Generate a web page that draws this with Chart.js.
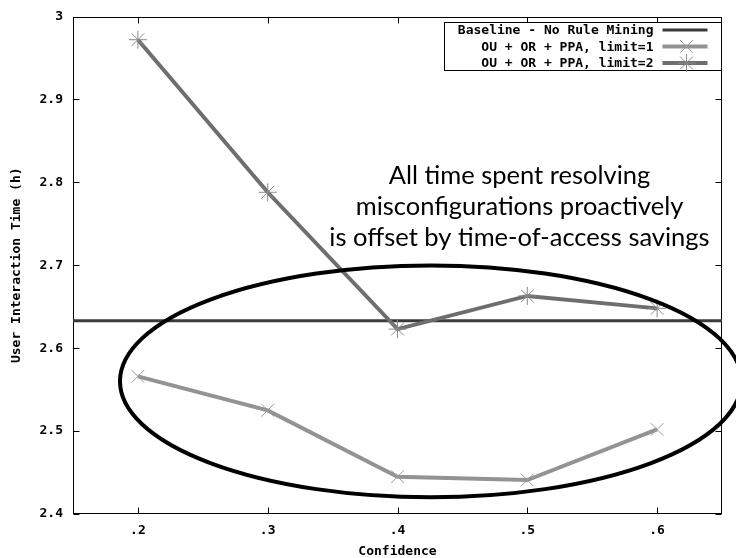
<!DOCTYPE html>
<html>
<head>
<meta charset="utf-8">
<script src="https://cdn.jsdelivr.net/npm/chart.js@4.4.1/dist/chart.umd.min.js"></script>
<style>
  html, body { margin: 0; padding: 0; background: #fff; }
  canvas { display: block; }
</style>
</head>
<body>
<canvas id="chart" width="736" height="558"></canvas>
<script>
// Confidence threshold on the x axis, user interaction time (hours) on the y axis
const confidence = [0.2, 0.3, 0.4, 0.5, 0.6];
const limit1Hours = [2.566, 2.525, 2.445, 2.441, 2.502];
const limit2Hours = [2.972, 2.788, 2.623, 2.663, 2.648];
const baselineHours = 2.633;

const xRange = [0.15, 0.65];
const yRange = [2.4, 3.0];
const xTickValues = [0.2, 0.3, 0.4, 0.5, 0.6];
const xTickLabels = ['.2', '.3', '.4', '.5', '.6'];
const yTickValues = [2.4, 2.5, 2.6, 2.7, 2.8, 2.9, 3.0];
const yTickLabels = ['2.4', '2.5', '2.6', '2.7', '2.8', '2.9', '3'];

const seriesLabels = [
  'Baseline - No Rule Mining',
  'OU + OR + PPA, limit=1',
  'OU + OR + PPA, limit=2'
];
const noteLines = [
  'All time spent resolving',
  'misconfigurations proactively',
  'is offset by time-of-access savings'
];

const monoBold = { family: '"DejaVu Sans Mono", "Liberation Mono", monospace', size: 13, weight: 'bold', lineHeight: 1 };

// Frame around the plot with inward ticks on all four sides
const framePlugin = {
  id: 'frame',
  beforeDatasetsDraw(chart) {
    const { ctx, chartArea: a, scales: { x, y } } = chart;
    ctx.save();
    ctx.strokeStyle = '#000';
    ctx.lineWidth = 1;
    const L = Math.round(a.left) + 0.5, R = Math.round(a.right) - 0.5;
    const T = Math.round(a.top) + 0.5, B = Math.round(a.bottom) - 0.5;
    ctx.strokeRect(L, T, R - L, B - T);
    ctx.beginPath();
    xTickValues.forEach(v => {
      const px = Math.round(x.getPixelForValue(v)) + 0.5;
      ctx.moveTo(px, B); ctx.lineTo(px, B - 6);
      ctx.moveTo(px, T); ctx.lineTo(px, T + 6);
    });
    yTickValues.forEach(v => {
      const py = Math.round(y.getPixelForValue(v)) + 0.5;
      ctx.moveTo(L, py); ctx.lineTo(L + 6, py);
      ctx.moveTo(R, py); ctx.lineTo(R - 6, py);
    });
    ctx.stroke();
    ctx.restore();
  }
};

// Ellipse and note text, placed in data coordinates
const noteOptions = {
  ellipse: { cx: 0.4256, cy: 2.560, rx: 0.2394, ry: 0.1398 },
  text: { x: 0.494, y: 2.761, lineGap: 31 }
};
const notePlugin = {
  id: 'note',
  afterDatasetsDraw(chart) {
    const { ctx, scales: { x, y } } = chart;
    const e = noteOptions.ellipse;
    const cx = x.getPixelForValue(e.cx), cy = y.getPixelForValue(e.cy);
    const rx = x.getPixelForValue(e.cx + e.rx) - cx;
    const ry = cy - y.getPixelForValue(e.cy + e.ry);
    ctx.save();
    ctx.beginPath();
    ctx.ellipse(cx, cy, rx, ry, 0, 0, Math.PI * 2);
    ctx.lineWidth = 4;
    ctx.strokeStyle = '#000';
    ctx.stroke();

    const t = noteOptions.text;
    const tx = x.getPixelForValue(t.x), ty = y.getPixelForValue(t.y);
    ctx.fillStyle = '#000';
    ctx.font = '25.5px Lato, "Open Sans", sans-serif';
    ctx.textAlign = 'center';
    ctx.textBaseline = 'alphabetic';
    noteLines.forEach((line, i) => {
      ctx.fillText(line, tx, ty + (i - 1) * t.lineGap);
    });
    ctx.restore();
  }
};

function drawMarker(ctx, style, px, py, r) {
  ctx.beginPath();
  if (style === 'crossRot' || style === 'star') {
    const d = r * Math.SQRT1_2;
    ctx.moveTo(px - d, py - d); ctx.lineTo(px + d, py + d);
    ctx.moveTo(px - d, py + d); ctx.lineTo(px + d, py - d);
  }
  if (style === 'star') {
    ctx.moveTo(px, py - r); ctx.lineTo(px, py + r);
    ctx.moveTo(px - r, py); ctx.lineTo(px + r, py);
  }
  ctx.stroke();
}

// Key box in the upper right corner: label, then line sample with marker
const keyPlugin = {
  id: 'key',
  afterDraw(chart) {
    const { ctx, chartArea: a } = chart;
    const w = 278, h = 48;
    const left = Math.round(a.right - w) + 0.5, top = Math.round(a.top + 5) + 0.5;
    ctx.save();
    ctx.fillStyle = '#fff';
    ctx.fillRect(left, top, w, h);
    ctx.strokeStyle = '#000';
    ctx.lineWidth = 1;
    ctx.strokeRect(left, top, w - 1, h);
    ctx.font = 'bold 13px "DejaVu Sans Mono", "Liberation Mono", monospace';
    ctx.textAlign = 'right';
    ctx.textBaseline = 'middle';
    chart.data.datasets.forEach((ds, i) => {
      const ry = top + 7.5 + i * 16.5;
      ctx.fillStyle = '#000';
      ctx.fillText(ds.label, left + 209, ry + 1);
      ctx.strokeStyle = ds.borderColor;
      ctx.lineWidth = ds.borderWidth;
      ctx.beginPath();
      ctx.moveTo(left + 218, ry);
      ctx.lineTo(left + 263, ry);
      ctx.stroke();
      if (ds.pointRadius > 0) {
        ctx.strokeStyle = ds.pointBorderColor;
        ctx.lineWidth = 1;
        drawMarker(ctx, ds.pointStyle, left + 242, ry, ds.pointRadius);
      }
    });
    ctx.restore();
  }
};

new Chart(document.getElementById('chart'), {
  type: 'line',
  data: {
    datasets: [
      {
        label: seriesLabels[0],
        data: xRange.map(v => ({ x: v, y: baselineHours })),
        borderColor: '#3a3a3a',
        borderWidth: 3,
        pointRadius: 0,
        order: 3
      },
      {
        label: seriesLabels[1],
        data: confidence.map((c, i) => ({ x: c, y: limit1Hours[i] })),
        borderColor: '#939393',
        borderWidth: 4,
        pointStyle: 'crossRot',
        pointRadius: 9,
        pointBorderColor: '#9c9c9c',
        pointBorderWidth: 1,
        order: 2
      },
      {
        label: seriesLabels[2],
        data: confidence.map((c, i) => ({ x: c, y: limit2Hours[i] })),
        borderColor: '#6e6e6e',
        borderWidth: 4,
        pointStyle: 'star',
        pointRadius: 9,
        pointBorderColor: '#8a8a8a',
        pointBorderWidth: 1,
        order: 1
      }
    ]
  },
  options: {
    responsive: false,
    animation: false,
    devicePixelRatio: 1,
    events: [],
    layout: { padding: { left: 0, right: 14, top: 16, bottom: 0 } },
    plugins: { legend: { display: false }, tooltip: { enabled: false } },
    elements: { line: { tension: 0 } },
    scales: {
      x: {
        type: 'linear',
        min: xRange[0],
        max: xRange[1],
        afterBuildTicks(s) { s.ticks = xTickValues.map(v => ({ value: v })); },
        afterFit(s) { s.height = 44; },
        grid: { display: false, drawTicks: false },
        border: { display: false },
        ticks: {
          callback: (v, i) => xTickLabels[i],
          color: '#000',
          font: monoBold,
          padding: 10,
          maxRotation: 0
        },
        title: {
          display: true,
          text: 'Confidence',
          color: '#000',
          font: monoBold,
          padding: { top: 0, bottom: 0 }
        }
      },
      y: {
        min: yRange[0],
        max: yRange[1],
        afterBuildTicks(s) { s.ticks = yTickValues.map(v => ({ value: v })); },
        afterFit(s) { s.width = 73; },
        grid: { display: false, drawTicks: false },
        border: { display: false },
        ticks: {
          callback: (v, i) => yTickLabels[i],
          color: '#000',
          font: monoBold,
          padding: 10
        },
        title: {
          display: true,
          text: 'User Interaction Time (h)',
          color: '#000',
          font: monoBold,
          padding: { top: 10, bottom: 0 }
        }
      }
    }
  },
  plugins: [framePlugin, notePlugin, keyPlugin]
});
</script>
</body>
</html>
